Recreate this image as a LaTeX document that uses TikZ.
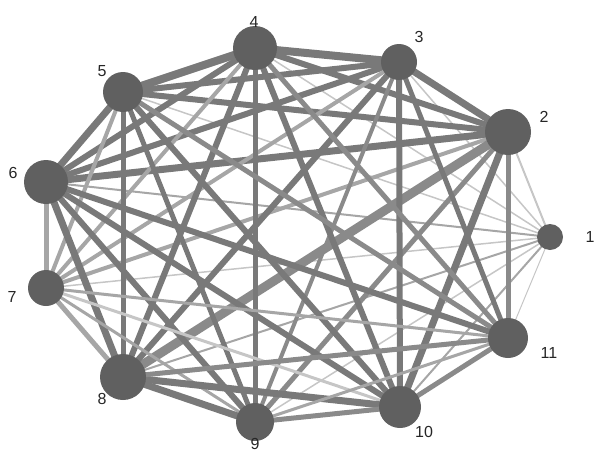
\documentclass[tikz,border=0pt]{standalone}
\usepackage{fontspec}
\setmainfont{Liberation Sans}
\usetikzlibrary{backgrounds}

\definecolor{vtxgray}{HTML}{606060}
\definecolor{dark}{HTML}{797979}
\definecolor{mid}{HTML}{8A8A8A}
\definecolor{light}{HTML}{A6A6A6}
\definecolor{pale}{HTML}{C6C6C6}

\tikzset{
  vertex/.style={circle, fill=vtxgray, inner sep=0pt},
  num/.style={font=\fontsize{16}{16}\selectfont, text=black!85, inner sep=0pt},
  link/.style={line cap=butt}
}

\begin{document}
\begin{tikzpicture}[x=1pt, y=-1pt, line join=round]
\useasboundingbox (0,0) rectangle (594,453);
% vertices and their numbers
\foreach \i/\x/\y/\d/\lx/\ly in {1/550/237/26/590/237, 2/508/132/46/544/117,
  3/399/62/36/419/37, 4/255/48/44/254/22, 5/123/92/40/102/71,
  6/46/182/44/13/173, 7/46/288/36/12/297, 8/123/377/46/102/399,
  9/255/422/38/255/444, 10/400/407/42/424/432, 11/508/338/40/549/353}
{
  \node[vertex, minimum size=\d pt] (n\i) at (\x,\y) {};
  \node[num] (l\i) at (\lx,\ly) {\i};
}
% weighted links
\begin{scope}[on background layer]
\foreach \a/\b/\w/\c in {1/2/2/pale, 1/3/1.5/pale, 1/4/1.5/pale, 1/5/1.5/pale,
  1/6/2/light, 1/7/1.5/pale, 1/8/2/light, 1/9/1.5/pale, 1/10/2/light, 1/11/1/pale,
  2/3/7/dark, 2/4/6/dark, 2/5/6/dark, 2/6/7/dark, 2/7/4/light, 2/8/9/mid,
  2/9/5/mid, 2/10/7/dark, 2/11/5/mid,
  3/4/8/dark, 3/5/6/dark, 3/6/6/dark, 3/7/4/light, 3/8/6/dark, 3/9/4/mid,
  3/10/6/dark, 3/11/5/dark,
  4/5/8/dark, 4/6/6/dark, 4/7/4/light, 4/8/6/dark, 4/9/5/dark, 4/10/6/dark,
  4/11/5/mid,
  5/6/7/dark, 5/7/4/light, 5/8/5/dark, 5/9/5/dark, 5/10/6/dark, 5/11/5/mid,
  6/7/5/light, 6/8/7/dark, 6/9/6/dark, 6/10/6/dark, 6/11/6/dark,
  7/8/5/light, 7/9/3/light, 7/10/3/pale, 7/11/3/light,
  8/9/7/dark, 8/10/7/dark, 8/11/5/mid,
  9/10/5/mid, 9/11/3/light, 10/11/5/mid}
  \draw[link, line width=\w pt, \c] (n\a.center) -- (n\b.center);
\end{scope}
\end{tikzpicture}
\end{document}
